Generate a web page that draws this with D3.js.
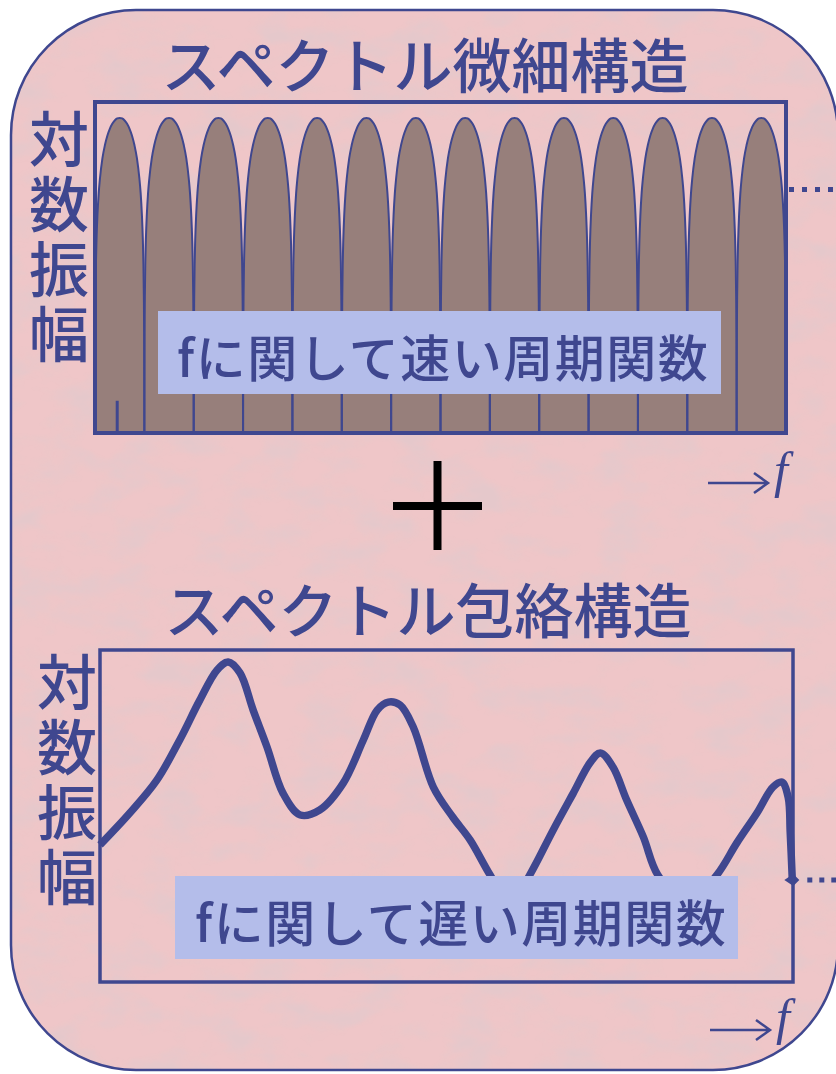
<!DOCTYPE html>
<html>
<head>
<meta charset="utf-8">
<script src="https://cdn.jsdelivr.net/npm/d3@7"></script>
<style>
  body { margin: 0; background: #fff; }
  text { font-family: "Noto Sans CJK JP", "Noto Sans", sans-serif; fill: #3f478f; font-weight: 500; }
</style>
</head>
<body>
<script>

// fine structure: one arch per harmonic, log amplitude profile across one period
var harmonics = [0, 1, 2, 3, 4, 5, 6, 7, 8, 9, 10, 11, 12, 13];
var archU = [0, 0.005, 0.01, 0.02, 0.03, 0.05, 0.075, 0.1, 0.15, 0.2, 0.25, 0.3, 0.35, 0.4, 0.45, 0.5,
             0.55, 0.6, 0.65, 0.7, 0.75, 0.8, 0.85, 0.9, 0.925, 0.95, 0.97, 0.98, 0.99, 0.995, 1];
var archV = [-2.64, -1.80, -1.50, -1.20, -1.03, -0.81, -0.63, -0.51, -0.34, -0.23, -0.15, -0.092, -0.050, -0.022, -0.005, 0,
             -0.005, -0.022, -0.050, -0.092, -0.15, -0.23, -0.34, -0.51, -0.63, -0.81, -1.03, -1.20, -1.50, -1.80, -2.64];
var dcTick = {f: 0.45, v: -2.37};

// envelope: frequency (0-100) vs log amplitude (0-100)
var envF = [0, 4.3, 8.2, 11.5, 14.4, 16.9, 18.5, 20.2, 22.1, 24.1, 26.4, 28.9, 31.7, 35.1, 38.0,
            40.0, 41.6, 43.3, 45.2, 48.1, 50.9, 53.4, 56.3, 59.2, 62.0, 65.4, 68.3, 70.7, 72.2, 74.0,
            76.0, 78.4, 80.5, 84.7, 89.0, 91.9, 94.8, 97.1, 98.4, 99.3, 99.6, 99.9];
var envA = [41.3, 50.9, 60.8, 72.9, 84.9, 94.0, 96.4, 93.1, 81.9, 70.8, 56.9, 50.3, 51.8, 59.9, 72.9,
            81.9, 84.3, 83.4, 76.8, 58.7, 49.7, 42.8, 32.2, 23.2, 32.2, 45.8, 56.9, 66.0, 69.0, 64.8,
            54.8, 43.7, 32.2, 23.2, 32.2, 41.9, 50.9, 58.7, 60.2, 55.7, 44.9, 30.7];

var titles = ["スペクトル微細構造", "スペクトル包絡構造"];
var yLabel = "対数振幅";
var notes = ["fに関して速い周期関数", "fに関して遅い周期関数"];

var ink = "#3f478f";

var svg = d3.select("body").append("svg")
    .attr("width", 836)
    .attr("height", 1074);

var defs = svg.append("defs");

var filter = defs.append("filter")
    .attr("id", "paper")
    .attr("x", 0).attr("y", 0).attr("width", 1).attr("height", 1);
filter.append("feTurbulence")
    .attr("type", "fractalNoise")
    .attr("baseFrequency", "0.02 0.035")
    .attr("numOctaves", 4)
    .attr("seed", 7)
    .attr("result", "noise");
filter.append("feColorMatrix")
    .attr("in", "noise")
    .attr("type", "matrix")
    .attr("values", "0 0 0 0 0.78  0 0 0 0 0.58  0 0 0 0 0.60  0 0 0 2.6 -1.1")
    .attr("result", "spots");
filter.append("feComposite")
    .attr("in", "spots").attr("in2", "SourceGraphic")
    .attr("operator", "in").attr("result", "spots2");
var merge = filter.append("feMerge");
merge.append("feMergeNode").attr("in", "SourceGraphic");
merge.append("feMergeNode").attr("in", "spots2");

// background card
svg.append("rect")
    .attr("x", 11).attr("y", 10)
    .attr("width", 827).attr("height", 1060)
    .attr("rx", 125).attr("ry", 125)
    .attr("fill", "#efc6c8")
    .attr("filter", "url(#paper)");
svg.append("rect")
    .attr("x", 11).attr("y", 10)
    .attr("width", 827).attr("height", 1060)
    .attr("rx", 125).attr("ry", 125)
    .attr("fill", "none")
    .attr("stroke", ink)
    .attr("stroke-width", 2.5);

// ---------- fine structure ----------
var box1 = {x0: 95, x1: 786, y0: 102, y1: 433};

var x1 = d3.scaleLinear().domain([0, harmonics.length]).range([box1.x0, box1.x1]);
var y1 = d3.scaleLinear().domain([-2.64, 0.133]).range([box1.y1, box1.y0]);

defs.append("clipPath").attr("id", "clip1")
  .append("rect")
    .attr("x", box1.x0).attr("y", box1.y0)
    .attr("width", box1.x1 - box1.x0).attr("height", box1.y1 - box1.y0);

var archLine = d3.line()
    .x(function(d) { return x1(d[0]); })
    .y(function(d) { return y1(d[1]); })
    .curve(d3.curveMonotoneX);

var archArea = d3.area()
    .x(function(d) { return x1(d[0]); })
    .y0(y1(-2.64))
    .y1(function(d) { return y1(d[1]); })
    .curve(d3.curveMonotoneX);

function archPoints(k) {
  return archU.map(function(u, i) { return [k + u, archV[i]]; });
}

var fine = svg.append("g").attr("clip-path", "url(#clip1)");

fine.selectAll("path.fill")
    .data(harmonics)
    .enter().append("path")
    .attr("class", "fill")
    .attr("d", function(k) { return archArea(archPoints(k)); })
    .attr("fill", "#977f7b");

fine.selectAll("path.edge")
    .data(harmonics)
    .enter().append("path")
    .attr("class", "edge")
    .attr("d", function(k) { return archLine(archPoints(k)); })
    .attr("fill", "none")
    .attr("stroke", ink)
    .attr("stroke-width", 2);

fine.append("line")
    .attr("x1", x1(dcTick.f)).attr("x2", x1(dcTick.f))
    .attr("y1", y1(-2.64)).attr("y2", y1(dcTick.v))
    .attr("stroke", ink)
    .attr("stroke-width", 3);

svg.append("rect")
    .attr("x", box1.x0).attr("y", box1.y0)
    .attr("width", box1.x1 - box1.x0).attr("height", box1.y1 - box1.y0)
    .attr("fill", "none")
    .attr("stroke", ink)
    .attr("stroke-width", 4);

// continuation dots
svg.append("line")
    .attr("x1", box1.x1 + 3).attr("x2", 836)
    .attr("y1", y1(-0.6)).attr("y2", y1(-0.6))
    .attr("stroke", ink)
    .attr("stroke-width", 5)
    .attr("stroke-dasharray", "5,8");

// ---------- envelope ----------
var box2 = {x0: 100, x1: 793, y0: 650, y1: 982};

var x2 = d3.scaleLinear().domain([0, 100]).range([box2.x0, box2.x1]);
var y2 = d3.scaleLinear().domain([0, 100]).range([box2.y1, box2.y0]);

var envLine = d3.line()
    .x(function(d, i) { return x2(envF[i]); })
    .y(function(d, i) { return y2(envA[i]); })
    .curve(d3.curveCatmullRom.alpha(0.5));

svg.append("path")
    .attr("d", envLine(envF))
    .attr("fill", "none")
    .attr("stroke", ink)
    .attr("stroke-width", 7.5)
    .attr("stroke-linejoin", "round");

var endX = x2(envF[envF.length - 1]);
var endY = y2(envA[envA.length - 1]);

svg.append("path")
    .attr("d", "M" + (endX - 8) + "," + endY + " L" + (endX + 1) + "," + (endY - 6) +
               " L" + (endX + 7) + "," + endY + " L" + (endX + 1) + "," + (endY + 6) + "Z")
    .attr("fill", ink);

svg.append("line")
    .attr("x1", endX + 15).attr("x2", 836)
    .attr("y1", endY).attr("y2", endY)
    .attr("stroke", ink)
    .attr("stroke-width", 5)
    .attr("stroke-dasharray", "5,7");

svg.append("rect")
    .attr("x", box2.x0).attr("y", box2.y0)
    .attr("width", box2.x1 - box2.x0).attr("height", box2.y1 - box2.y0)
    .attr("fill", "none")
    .attr("stroke", ink)
    .attr("stroke-width", 3.5);

// ---------- texts ----------
svg.append("text")
    .attr("x", 425).attr("y", 62)
    .attr("text-anchor", "middle")
    .attr("dominant-baseline", "central")
    .attr("font-size", 59)
    .text(titles[0]);

svg.append("text")
    .attr("x", 428).attr("y", 607)
    .attr("text-anchor", "middle")
    .attr("dominant-baseline", "central")
    .attr("font-size", 59)
    .text(titles[1]);

function verticalLabel(cx, top) {
  svg.append("text")
      .attr("x", cx)
      .attr("y", top)
      .style("writing-mode", "vertical-rl")
      .style("letter-spacing", "5px")
      .attr("font-size", 60)
      .text(yLabel);
}
verticalLabel(59, 109);
verticalLabel(67, 652);

function noteBox(x, y, w, h, tx, s) {
  svg.append("rect")
      .attr("x", x).attr("y", y)
      .attr("width", w).attr("height", h)
      .attr("fill", "#b4bdea");
  svg.append("text")
      .attr("x", tx).attr("y", y + h / 2 + 2)
      .attr("dominant-baseline", "central")
      .attr("font-size", 50)
      .style("letter-spacing", "1.5px")
      .text(s);
}
noteBox(158, 311, 563, 83, 177, notes[0]);
noteBox(175, 876, 563, 83, 195, notes[1]);

function freqArrow(x, y) {
  svg.append("path")
      .attr("d", "M" + x + "," + y + " H" + (x + 60) +
                 " M" + (x + 46) + "," + (y - 10) + " L" + (x + 60) + "," + y + " L" + (x + 46) + "," + (y + 10))
      .attr("fill", "none")
      .attr("stroke", ink)
      .attr("stroke-width", 2.5);
  svg.append("text")
      .attr("x", x + 66).attr("y", y + 4)
      .style("font-family", "'Liberation Serif', serif")
      .style("font-style", "italic")
      .attr("font-size", 50)
      .text("f");
}
freqArrow(708, 483);
freqArrow(710, 1030);

// plus sign between panels
svg.append("path")
    .attr("d", "M393,506 H482 M437.5,461 V550")
    .attr("stroke", "#000")
    .attr("stroke-width", 8)
    .attr("fill", "none");

</script>
</body>
</html>
